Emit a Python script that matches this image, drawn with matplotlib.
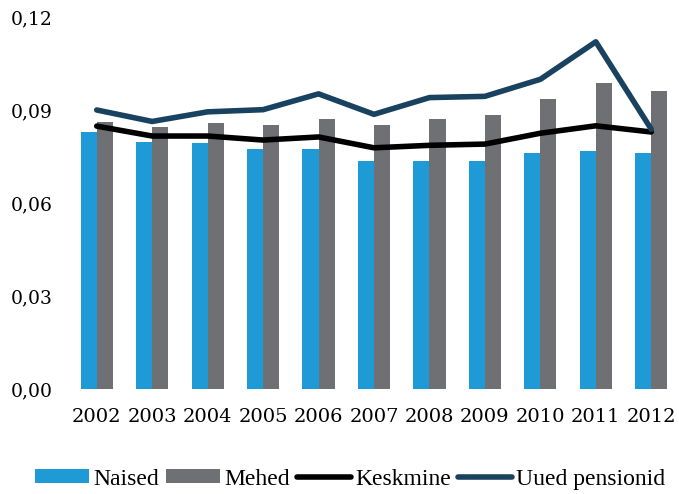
import numpy as np
import matplotlib
matplotlib.use("Agg")
import matplotlib.pyplot as plt
from matplotlib.ticker import FuncFormatter, MultipleLocator

years = ["2002", "2003", "2004", "2005", "2006", "2007",
         "2008", "2009", "2010", "2011", "2012"]
naised = [0.0830, 0.0798, 0.0792, 0.0773, 0.0773, 0.0734,
          0.0734, 0.0734, 0.0760, 0.0767, 0.0760]
mehed = [0.0862, 0.0844, 0.0857, 0.0851, 0.0871, 0.0851,
         0.0871, 0.0883, 0.0935, 0.0986, 0.0960]
keskmine = [0.0848, 0.0816, 0.0816, 0.0803, 0.0813, 0.0778,
            0.0786, 0.0790, 0.0825, 0.0849, 0.0829]
uued = [0.0900, 0.0863, 0.0894, 0.0901, 0.0952, 0.0886,
        0.0940, 0.0944, 0.0999, 0.1120, 0.0838]

fig = plt.figure(figsize=(6.79, 4.94), dpi=100)
ax = fig.add_axes([0.1016, 0.2126, 0.8984, 0.753])

x = np.arange(len(years))
w = 0.29
b1 = ax.bar(x - w / 2, naised, w, color="#1e9bd7", label="Naised")
b2 = ax.bar(x + w / 2, mehed, w, color="#6f7073", label="Mehed")
l1, = ax.plot(x, keskmine, color="black", lw=4, label="Keskmine",
              solid_capstyle="round", solid_joinstyle="round")
l2, = ax.plot(x, uued, color="#18425f", lw=4, label="Uued pensionid",
              solid_capstyle="round", solid_joinstyle="round")

ax.set_xlim(-0.5, len(years) - 0.5)
ax.set_ylim(0, 0.12)
ax.yaxis.set_major_locator(MultipleLocator(0.03))
ax.yaxis.set_major_formatter(FuncFormatter(lambda v, p: f"{v:.2f}".replace(".", ",")))
ax.set_xticks(x)
ax.set_xticklabels(years)

for s in ax.spines.values():
    s.set_visible(False)
ax.tick_params(axis="both", length=0, labelsize=14)
ax.tick_params(axis="y", pad=12, labelsize=13.5)
ax.tick_params(axis="x", pad=14)
for lbl in ax.get_xticklabels() + ax.get_yticklabels():
    lbl.set_fontfamily("DejaVu Serif")

fig.legend([b1, b2, l1, l2], ["Naised", "Mehed", "Keskmine", "Uued pensionid"],
           loc="center", bbox_to_anchor=(350 / 679, 1 - 479 / 494),
           ncol=4, frameon=False, prop={"family": "Liberation Serif", "size": 17},
           handlelength=2.29, handleheight=0.5, handletextpad=0.17,
           columnspacing=0.3, borderpad=0)

fig.savefig("out.png", dpi=100)
